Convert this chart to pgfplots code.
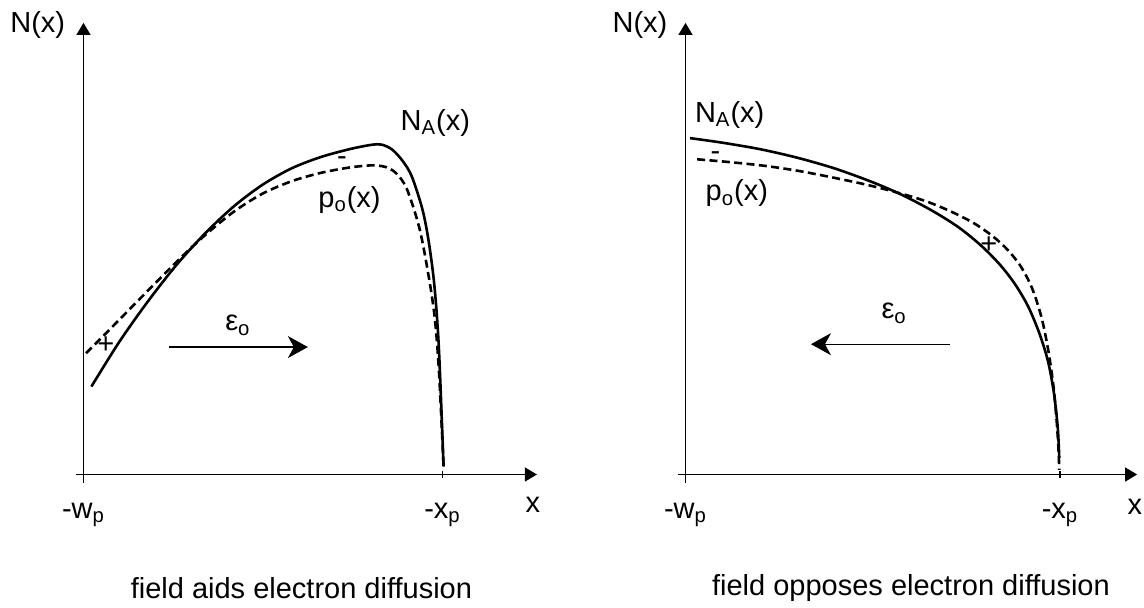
\documentclass[border=0pt]{standalone}
\usepackage{fontspec}
\setmainfont{Liberation Sans}
\usepackage{pgfplots}
\pgfplotsset{compat=1.18}
\usetikzlibrary{arrows.meta}

\newcommand\ff{\fontsize{14.5}{17}\selectfont}

\pgfplotsset{
  pn/.style={
    axis lines=middle,
    axis line style={line width=0.6pt,-{Triangle[length=6pt,width=7pt]}},
    y=179.5pt, ymin=-0.024, ymax=1.258,
    xtick={0,1}, ytick=\empty,
    hide obscured x ticks=false,
    tick style={line width=0.6pt,black},
    major tick length=3.5pt, tick align=center,
    tick label style={font=\ff},
    label style={font=\ff},
    xticklabels={-w\textsubscript{p},-x\textsubscript{p}},
    xticklabel style={anchor=base,yshift=-20pt},
    xlabel={x}, ylabel={N(x)},
    ylabel style={rotate=0,anchor=center},
    xlabel style={anchor=center},
    clip=false,
    anchor=origin,
  },
  na/.style={black,line width=1.3pt},
  po/.style={black,line width=1.3pt,dash pattern=on 4pt off 2.2pt},
  fld/.style={black,line width=0.6pt,-{Stealth[length=10pt,width=11pt,inset=3pt]}},
}

\begin{document}
\ff
\begin{tikzpicture}
\useasboundingbox (0,0) rectangle (572pt,303.5pt);

% left: field aids electron diffusion
\begin{axis}[pn, at={(41.75pt,66.25pt)}, x=179.5pt, xmin=-0.021, xmax=1.263,
  xlabel style={at={(axis description cs:0.991,-0.048)}},
  ylabel style={at={(axis description cs:-0.083,0.995)}}]
\addplot[na,smooth] coordinates {
  (0.022,0.245) (0.10,0.370) (0.18,0.483) (0.26,0.585) (0.34,0.673)
  (0.42,0.748) (0.50,0.808) (0.58,0.853) (0.66,0.884) (0.74,0.906)
  (0.80,0.918) (0.83,0.919) (0.86,0.905) (0.89,0.872) (0.915,0.829)
  (0.945,0.735) (0.963,0.640) (0.978,0.520) (0.990,0.350) (1.003,0.022)};
\addplot[po,smooth] coordinates {
  (0.007,0.338) (0.067,0.398) (0.13,0.462) (0.20,0.533) (0.27,0.603)
  (0.34,0.668) (0.42,0.733) (0.50,0.783) (0.58,0.817) (0.66,0.840)
  (0.74,0.855) (0.80,0.861) (0.84,0.857) (0.87,0.840) (0.90,0.797)
  (0.935,0.689) (0.960,0.561) (0.978,0.440) (0.990,0.290) (1.003,0.021)};
\addplot[fld] coordinates {(0.237,0.355) (0.625,0.355)};
\node[font=\ff] at (axis cs:0.980,0.979) {N\textsubscript{A}(x)};
\node[font=\ff] at (axis cs:0.741,0.765) {p\textsubscript{o}(x)};
\node[font=\ff] at (axis cs:0.430,0.416) {ε\textsubscript{o}};
\node[font=\ff] at (axis cs:0.062,0.361) {+};
\node[font=\ff] at (axis cs:0.720,0.872) {-};
\node[font=\ff] at (axis cs:0.607,-0.316) {field aids electron diffusion};
\end{axis}

% right: field opposes electron diffusion
\begin{axis}[pn, at={(342.75pt,66.25pt)}, x=187.25pt, xmin=-0.021, xmax=1.206,
  xlabel style={at={(axis description cs:0.995,-0.052)}},
  ylabel style={at={(axis description cs:-0.082,0.995)}}]
\addplot[na,smooth] coordinates {
  (0.012,0.937) (0.10,0.924) (0.20,0.906) (0.30,0.882) (0.40,0.852)
  (0.50,0.814) (0.58,0.778) (0.66,0.734) (0.73,0.688) (0.79,0.637)
  (0.84,0.584) (0.88,0.530) (0.915,0.468) (0.945,0.393) (0.968,0.315)
  (0.984,0.225) (0.994,0.130) (0.998,0.046)};
\addplot[po,smooth] coordinates {
  (0.031,0.878) (0.12,0.870) (0.21,0.860) (0.30,0.846) (0.39,0.828)
  (0.48,0.808) (0.56,0.787) (0.64,0.762) (0.71,0.732) (0.77,0.700)
  (0.82,0.664) (0.86,0.626) (0.895,0.580) (0.925,0.520) (0.950,0.440)
  (0.968,0.350) (0.982,0.250) (0.991,0.150) (0.996,0.070) (0.998,0.013)};
\addplot[fld] coordinates {(0.706,0.363) (0.335,0.363)};
\node[font=\ff] at (axis cs:0.118,1.001) {N\textsubscript{A}(x)};
\node[font=\ff] at (axis cs:0.137,0.783) {p\textsubscript{o}(x)};
\node[font=\ff] at (axis cs:0.557,0.449) {ε\textsubscript{o}};
\node[font=\ff] at (axis cs:0.810,0.639) {+};
\node[font=\ff] at (axis cs:0.080,0.887) {-};
\node[font=\ff] at (axis cs:0.602,-0.316) {field opposes electron diffusion};
\end{axis}
\end{tikzpicture}
\end{document}
